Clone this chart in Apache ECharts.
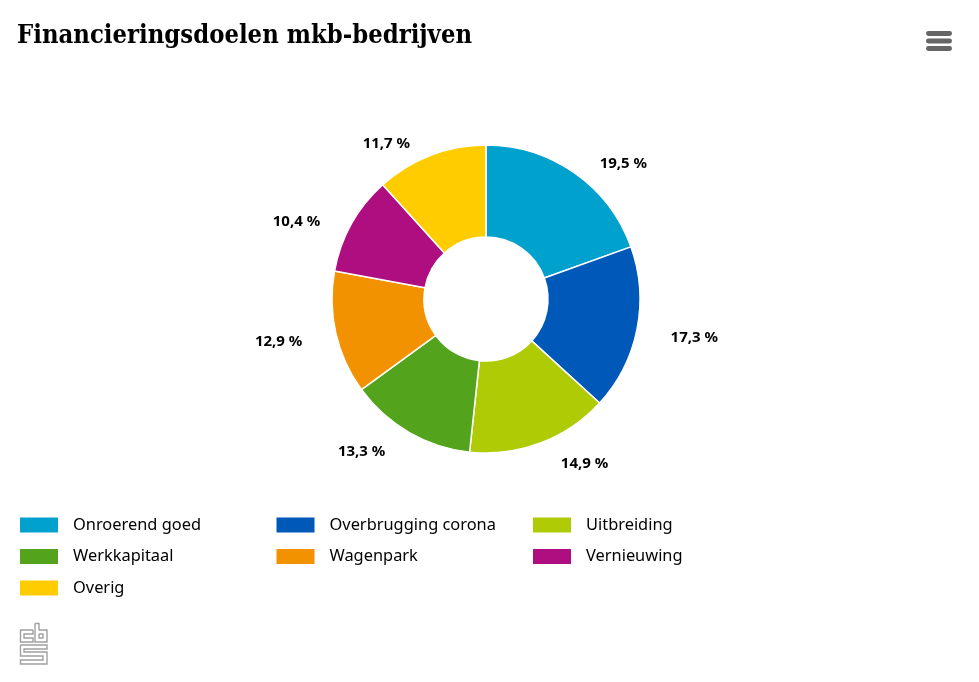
<!DOCTYPE html>
<html><head><meta charset="utf-8">
<style>html,body{margin:0;padding:0;background:#fff}#c{width:979px;height:682px}</style>
<script src="https://cdn.jsdelivr.net/npm/echarts@6/dist/echarts.min.js"></script></head>
<body><div id="c"></div>
<script>
const categories=["Onroerend goed","Overbrugging corona","Uitbreiding","Werkkapitaal","Wagenpark","Vernieuwing","Overig"];
const values=[19.5,17.3,14.9,13.3,12.9,10.4,11.7];
const colors=["#00a1cd","#0058b8","#afcb05","#53a31d","#f39200","#af0e80","#ffcc00"];
const titleText="Financieringsdoelen mkb-bedrijven";
const chart=echarts.init(document.getElementById('c'),null,{renderer:'canvas'});
const logoStroke={stroke:'#a0a0a0',lineWidth:1.4,fill:null};
function poly(points){return {type:'polyline',shape:{points},style:logoStroke};}
chart.setOption({
  animation:false,
  backgroundColor:'#fff',
  color:colors,
  title:{text:titleText,left:12,top:19,textStyle:{fontFamily:'"DejaVu Serif Condensed","DejaVu Serif",serif',fontWeight:'bold',fontSize:25.4,color:'#000'}},
  legend:{left:15,top:512,width:790,itemWidth:38,itemHeight:15,itemGap:15.5,icon:'rect',
    data:categories,
    textStyle:{fontFamily:'"Noto Sans",sans-serif',fontSize:16.4,color:'#000',width:188,height:16,lineHeight:16,padding:[0,0,0,10],overflow:'truncate'},
    itemStyle:{borderWidth:0},
    selectedMode:false},
  graphic:[
    {type:'rect',shape:{x:926,y:31,width:26,height:5,r:2.4},style:{fill:'#666'}},
    {type:'rect',shape:{x:926,y:38.5,width:26,height:5,r:2.4},style:{fill:'#666'}},
    {type:'rect',shape:{x:926,y:46,width:26,height:5,r:2.4},style:{fill:'#666'}},
    poly([[33,630],[20.5,630],[20.5,642],[33,642],[33,638],[24,638],[24,634],[33,634],[33,630]]),
    poly([[35,623.5],[39,623.5],[39,630],[47,630],[47,642],[35,642],[35,623.5]]),
    poly([[39,634],[43,634],[43,638],[39,638],[39,634]]),
    poly([[20.5,645],[47,645],[47,649],[24,649],[24,652],[47,652],[47,664],[20.5,664],[20.5,660],[43,660],[43,656],[20.5,656],[20.5,645]])
  ],
  series:[{type:'pie',center:[486,299],radius:[62,154],startAngle:90,clockwise:true,
    data:categories.map((n,i)=>({name:n,value:values[i]})),
    itemStyle:{borderColor:'#fff',borderWidth:1.5},
    label:{show:true,position:'outside',formatter:p=>String(p.value).replace('.',',')+' %',fontFamily:'"Noto Sans",sans-serif',fontWeight:'bold',fontSize:15,color:'#000'},
    labelLine:{show:false,length:21,length2:8},
    labelLayout:p=>({dy:p.labelRect.y<250?8:(p.labelRect.y>400?1.5:4)}),
    emphasis:{disabled:true}
  }]
});
</script></body></html>
